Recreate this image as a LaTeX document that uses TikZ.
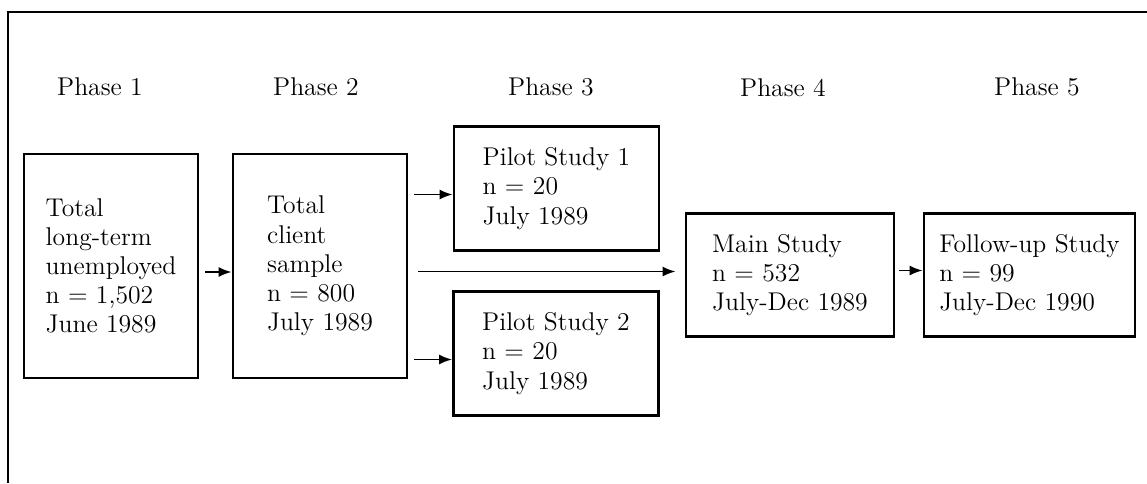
\documentclass[tikz,border=0pt]{standalone}
\usepackage{tikz}
\usetikzlibrary{shapes,arrows,arrows.meta,positioning,calc}
\tikzset{
    stage/.style={rectangle, draw, line width=1.6pt, align=left, inner sep=0pt},
    tall/.style={stage, minimum width=3.48cm, minimum height=4.48cm},
    wide/.style={stage, minimum width=4.1cm, minimum height=2.48cm},
    phase/.style={anchor=base},
    line/.style={draw, line width=1pt, -{Latex[length=2.6mm,width=2mm]}},
    frame/.style={draw, line width=1pt}
}

\begin{document}
\begin{tikzpicture}[font=\fontsize{14.6}{16.6}\selectfont]
    \useasboundingbox (0,0) rectangle (22.94,-9.66);
    % Outer frame (top and left only)
    \coordinate (topleft) at (0.16,-0.24);
    \coordinate (topright) at (22.94,-0.24);
    \coordinate (botleft) at (0.16,-9.66);
    \draw [frame] (botleft) -- (topleft) -- (topright);

    % Phases 1 and 2
    \node [tall] (total) at (2.22,-5.32) {Total\\long-term\\unemployed\\n = 1,502\\June 1989};
    \node [tall] (client) at ([shift={(4.18cm,0)}]total) {Total\\client\\sample\\n = 800\\July 1989};

    % Phase 3 pilots
    \node [wide] (pilot1) at ([shift={(4.73cm,1.55cm)}]client) {Pilot Study 1\\n = 20\\July 1989};
    \node [wide] (pilot2) at ([shift={(4.72cm,-1.75cm)}]client) {Pilot Study 2\\n = 20\\July 1989};

    % Phases 4 and 5
    \node [wide, minimum width=4.16cm, minimum height=2.46cm] (main) at ([shift={(9.40cm,-0.18cm)}]client) {Main Study\\n = 532\\July-Dec 1989};
    \node [wide, minimum width=4.22cm, minimum height=2.46cm] (follow) at ([shift={(4.79cm,0)}]main) {Follow-up Study\\n = 99\\July-Dec 1990};

    % Phase headings
    \node [phase] (ph1) at (2.00,-1.90) {Phase 1};
    \node [phase] (ph2) at (6.32,-1.90) {Phase 2};
    \node [phase] (ph3) at (11.02,-1.90) {Phase 3};
    \node [phase] (ph4) at (15.66,-1.92) {Phase 4};
    \node [phase] (ph5) at (20.74,-1.90) {Phase 5};

    % Connections
    \path [line, shorten <=0.12cm] ([yshift=-0.12cm]total.east) -- ([yshift=-0.12cm]client.west);
    \path [line, shorten <=0.12cm] ([yshift=-0.12cm]client.east |- pilot1.west) -- ([yshift=-0.12cm]pilot1.west);
    \path [line, shorten <=0.12cm] ([yshift=-0.12cm]client.east |- pilot2.west) -- ([yshift=-0.12cm]pilot2.west);
    \path [line, shorten <=0.2cm, shorten >=0.18cm] ([yshift=0.07cm]client.east |- main.west) -- ([yshift=0.07cm]main.west);
    \path [line, shorten <=0.08cm] ([yshift=0.09cm]main.east) -- ([yshift=0.09cm]follow.west);
\end{tikzpicture}
\end{document}
